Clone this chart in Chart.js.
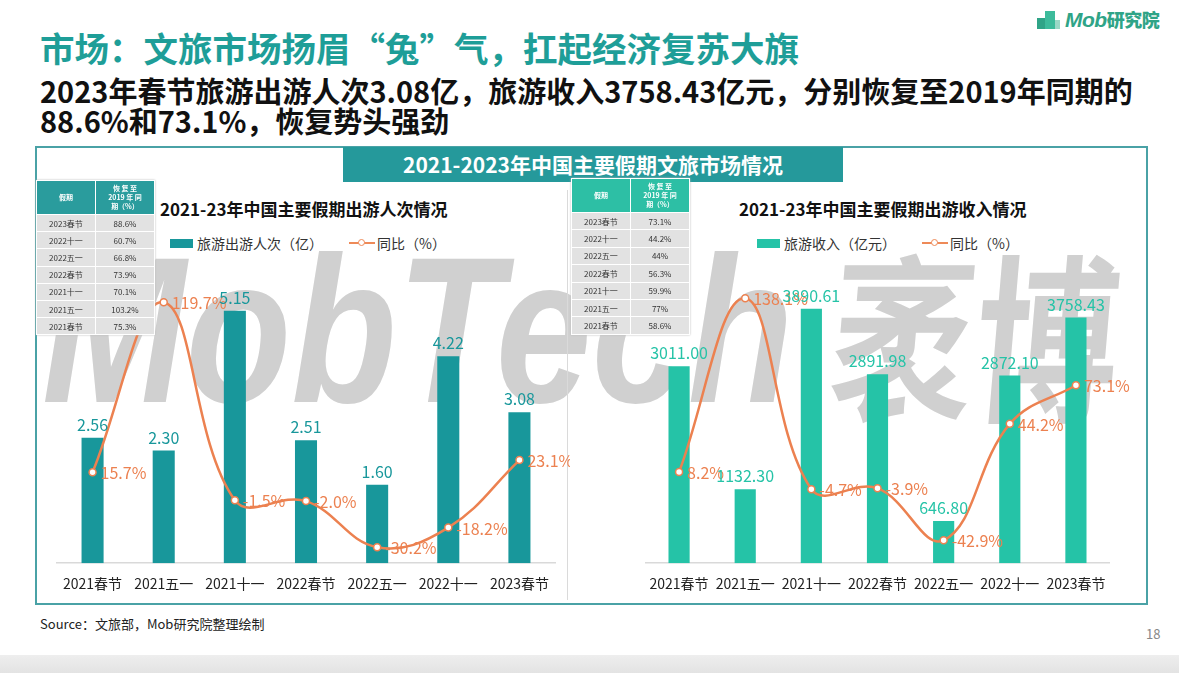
<!DOCTYPE html>
<html><head><meta charset="utf-8">
<script src="https://cdn.jsdelivr.net/npm/chart.js@4.4.0/dist/chart.umd.min.js"></script>
<style>
html,body{margin:0;padding:0;}
body{width:1179px;height:673px;position:relative;overflow:hidden;background:#fff;font-family:"Noto Sans CJK SC","Noto Sans",sans-serif;}
.abs{position:absolute;}
#title{left:40px;top:25px;font-size:34.5px;font-weight:700;color:#1E9E98;white-space:nowrap;line-height:44px;}
#sub{left:40px;top:75px;font-size:29px;font-weight:700;color:#111;line-height:30px;width:1130px;}
#frame{left:35px;top:146px;width:1109px;height:455px;border:2.5px solid #4AA2A6;}
#banner{left:343px;top:147px;width:500px;height:35px;background:#25999B;color:#fff;font-weight:700;font-size:21px;line-height:35px;text-align:center;}
#wm{left:42px;top:226px;font-family:"Liberation Sans","DejaVu Sans",sans-serif;font-weight:700;font-style:italic;font-size:208px;color:#D0D0D0;white-space:nowrap;transform-origin:0 0;transform:scaleX(0.83);line-height:208px;}
#wm2{left:840px;top:240px;font-family:"Noto Sans CJK SC",sans-serif;font-weight:700;font-size:180px;color:#D0D0D0;white-space:nowrap;transform-origin:0 0;transform:scaleX(0.8) skewX(-6deg);line-height:180px;}
#divider{left:567px;top:190px;width:1px;height:410px;background:#DADADA;}
.ctitle{font-size:17px;font-weight:700;color:#111;white-space:nowrap;}
.leg{font-size:14px;color:#333;white-space:nowrap;display:flex;align-items:center;}
.legbox{display:inline-block;width:23px;height:9px;margin-right:4px;}
.legline{display:inline-block;position:relative;width:26px;height:10px;margin-right:2px;}
.legline:before{content:"";position:absolute;left:0;right:0;top:4px;height:2px;background:#EE8A58;}
.legline:after{content:"";position:absolute;left:9px;top:1px;width:5px;height:5px;border:1.5px solid #EE8A58;border-radius:50%;background:#fff;}
table.rec{position:absolute;border-collapse:separate;border-spacing:1.5px;background:#fff;box-shadow:0 0 2px #bbb;}
table.rec td{background:#E2E2E2;font-size:8px;color:#333;text-align:center;padding:0;white-space:nowrap;}
table.rec th{color:#fff;font-size:7px;font-weight:700;line-height:9px;padding:0;text-align:center;}
#src{left:40px;top:614px;font-size:13px;color:#222;}
#pg{left:1146px;top:624px;font-size:13px;color:#888;}
#band{left:0;top:655px;width:1179px;height:18px;background:linear-gradient(#eee,#e3e3e3);}
#logo{left:1035px;top:6px;height:26px;display:flex;align-items:center;}
#logo span{font-family:"Liberation Sans",sans-serif;font-style:italic;font-weight:700;font-size:21px;color:#2FA487;letter-spacing:-0.5px;}
#logo span b{font-family:"Noto Sans CJK SC";font-size:18px;font-style:normal;}
</style></head>
<body>
<div id="logo" class="abs">
  <div style="position:relative;width:28px;height:22px;margin-right:2px;">
    <div style="position:absolute;left:2px;top:10px;width:8px;height:11px;background:#2FA487;"></div>
    <div style="position:absolute;left:10px;top:3px;width:10px;height:18px;background:#3DBB9B;"></div>
    <div style="position:absolute;left:20px;top:12px;width:5px;height:9px;background:#9BD8C6;"></div>
  </div>
  <span>Mob<b>研究院</b></span>
</div>
<div id="title" class="abs">市场：文旅市场扬眉“兔”气，扛起经济复苏大旗</div>
<div id="sub" class="abs">2023年春节旅游出游人次3.08亿，旅游收入3758.43亿元，分别恢复至2019年同期的<br>88.6%和73.1%，恢复势头强劲</div>
<div id="frame" class="abs"></div>
<div id="wm" class="abs">MobTech</div>
<div id="wm2" class="abs">袤博</div>
<div id="divider" class="abs"></div>
<div id="banner" class="abs">2021-2023年中国主要假期文旅市场情况</div>

<div class="abs ctitle" style="left:160px;top:196px;">2021-23年中国主要假期出游人次情况</div>
<div class="abs ctitle" style="left:739px;top:196px;">2021-23年中国主要假期出游收入情况</div>
<div class="abs leg" style="left:170px;top:233px;"><span class="legbox" style="background:#18979B"></span>旅游出游人次（亿）<span style="display:inline-block;width:26px"></span><span class="legline"></span>同比（%）</div>
<div class="abs leg" style="left:757px;top:233px;"><span class="legbox" style="background:#25C3A7"></span>旅游收入（亿元）<span style="display:inline-block;width:26px"></span><span class="legline"></span>同比（%）</div>

<canvas id="c1" class="abs" width="530" height="357" style="left:40px;top:255px;"></canvas>
<canvas id="c2" class="abs" width="545" height="357" style="left:600px;top:255px;"></canvas>

<table id="t1" class="rec" style="left:36px;top:180px;width:119px;"></table>
<table id="t2" class="rec" style="left:571px;top:178px;width:119px;"></table>

<div id="src" class="abs">Source：文旅部，Mob研究院整理绘制</div>
<div id="pg" class="abs">18</div>
<div id="band" class="abs"></div>

<script>
// ---- data ----
const holidays = ['2021春节','2021五一','2021十一','2022春节','2022五一','2022十一','2023春节'];
const tripsValues = [2.56, 2.30, 5.15, 2.51, 1.60, 4.22, 3.08];
const tripsYoY = [15.7, 119.7, -1.5, -2.0, -30.2, -18.2, 23.1];
const revenueValues = [3011.00, 1132.30, 3890.61, 2891.98, 646.80, 2872.10, 3758.43];
const revenueYoY = [8.2, 138.1, -4.7, -3.9, -42.9, 44.2, 73.1];
const tableHolidays = ['2023春节','2022十一','2022五一','2022春节','2021十一','2021五一','2021春节'];
const tripsRecovery = ['88.6%','60.7%','66.8%','73.9%','70.1%','103.2%','75.3%'];
const revenueRecovery = ['73.1%','44.2%','44%','56.3%','59.9%','77%','58.6%'];

function buildTable(id, color, values, headH, rowH){
  let h = '<tr><th style="background:'+color+';height:'+headH+'px;width:50%">假期</th><th style="background:'+color+'">恢 复 至<br>2019 年 同<br>期（%）</th></tr>';
  tableHolidays.forEach((k,i)=>{ h += '<tr><td style="height:'+rowH+'px">'+k+'</td><td>'+values[i]+'</td></tr>'; });
  document.getElementById(id).innerHTML = h;
}
buildTable('t1','#2A9C9D',tripsRecovery,33,16.2);
buildTable('t2','#2DBFA5',revenueRecovery,33,16.4);

const FONT = '"Noto Sans CJK SC", "Noto Sans", sans-serif';
const ORANGE = '#EC8150';

const labelPlugin = {
  id:'valueLabels',
  afterDatasetsDraw(chart, args, opts){
    const ctx = chart.ctx;
    ctx.save();
    chart.data.datasets.forEach((ds, di)=>{
      const meta = chart.getDatasetMeta(di);
      meta.data.forEach((el, i)=>{
        const v = ds.data[i];
        ctx.font = '16px ' + FONT;
        if (ds.type === 'line'){
          ctx.fillStyle = ORANGE;
          ctx.textAlign = 'left';
          ctx.textBaseline = 'middle';
          ctx.fillText(v.toFixed(1)+'%', el.x + 8, el.y + 1);
        } else {
          ctx.fillStyle = opts.barColor;
          ctx.textAlign = 'center';
          ctx.textBaseline = 'bottom';
          ctx.fillText(v.toFixed(2), el.x, el.y - 5);
        }
      });
    });
    ctx.restore();
  }
};

function makeChart(id, barData, lineData, barColor, yMax, y1Min, y1Max, barPct, pad){
  return new Chart(document.getElementById(id), {
    data:{
      labels: holidays,
      datasets:[
        {type:'line', data:lineData, yAxisID:'y1', borderColor:ORANGE, borderWidth:2.5, tension:0.4,
         pointRadius:3.5, pointBackgroundColor:'#fff', pointBorderColor:ORANGE, pointBorderWidth:1.5, clip:false},
        {type:'bar', data:barData, yAxisID:'y', backgroundColor:barColor, barPercentage:barPct, categoryPercentage:1}
      ]
    },
    options:{
      responsive:false, devicePixelRatio:1, animation:false,
      layout:{padding:pad},
      plugins:{legend:{display:false}, tooltip:{enabled:false}, valueLabels:{barColor:barColor}},
      scales:{
        x:{grid:{display:false, drawTicks:false}, border:{display:true,color:'#D9D9D9',width:1.5},
           ticks:{color:'#222', font:{family:FONT,size:14}, padding:12, maxRotation:0}},
        y:{display:false, min:0, max:yMax},
        y1:{display:false, min:y1Min, max:y1Max, position:'right'}
      }
    },
    plugins:[labelPlugin]
  });
}
makeChart('c1', tripsValues, tripsYoY, '#18979B', 6, -40, 140, 0.31, {left:17, right:15, top:14, bottom:8});
makeChart('c2', revenueValues, revenueYoY, '#25C3A7', 4500, -60, 160, 0.32, {left:46, right:36, top:14, bottom:8});
</script>
</body></html>
